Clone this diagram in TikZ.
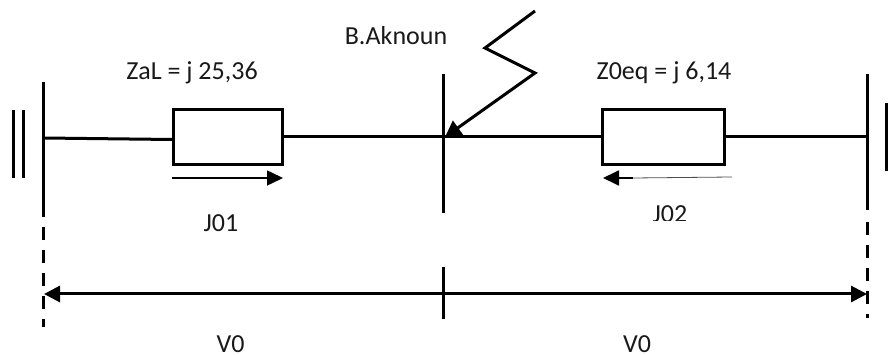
\documentclass[tikz,border=0pt]{standalone}
\usepackage{fontspec}
\setmainfont{Carlito}
\usetikzlibrary{arrows.meta}
\tikzset{
  wire/.style={line width=3pt,black},
  busbar/.style={line width=3pt,black},
  imp/.style={draw=black,line width=3.3pt,fill=white,minimum height=54.6pt,inner sep=0pt,outer sep=0pt},
  lab/.style={inner sep=0pt,anchor=base,font=\fontsize{26pt}{28pt}\selectfont,text=black!90},
  dashbus/.style={line width=3pt,black,dash pattern=on 13pt off 10pt},
}
\begin{document}
\begin{tikzpicture}[x=1pt,y=-1pt]
\useasboundingbox (0,0) rectangle (892,355);
% named points
\coordinate (LT) at (43.5,82); \coordinate (LB) at (43.5,217); \coordinate (LDs) at (43.5,227); \coordinate (LD) at (43.5,327);
\coordinate (LW) at (43.5,138); \coordinate (LI) at (172,139.5);
\coordinate (RT) at (867.7,74); \coordinate (RB) at (867.7,210); \coordinate (RDs) at (867.7,222); \coordinate (RD) at (867.7,318);
\coordinate (RW) at (867.7,137);
\coordinate (CT) at (443,74); \coordinate (CB) at (443,213); \coordinate (CW) at (443,137);
\coordinate (G1a) at (13,110); \coordinate (G1b) at (13,178);
\coordinate (G2a) at (23.7,110); \coordinate (G2b) at (23.7,178);
\coordinate (G3a) at (886.7,103); \coordinate (G3b) at (886.7,171);
\coordinate (Z1) at (535,11); \coordinate (Z2) at (485,48); \coordinate (Z3) at (535,73);
\coordinate (Zend) at (445,137);
\coordinate (A1s) at (172,178); \coordinate (A1e) at (283,178);
\coordinate (A2s) at (732,177); \coordinate (A2m) at (633,178); \coordinate (A2e) at (603,178);
\coordinate (DL) at (44,294); \coordinate (DR) at (867,294);
\coordinate (TT) at (443,267); \coordinate (TB) at (443,319);
% boxes
\node[imp,minimum width=108.6pt] (Z01) at (228,137) {};
\node[imp,minimum width=121.6pt] (Z02) at (663.5,137) {};
% wires
\draw[wire] (LW) -- (LI);
\draw[wire] (Z01.east |- CW) -- (CW) -- (Z02.west |- CW);
\draw[wire] (Z02.east |- CW) -- (RW);
% bars
\draw[busbar] (LT) -- (LB);
\draw[dashbus] (LDs) -- (LD);
\draw[busbar] (RT) -- (RB);
\draw[dashbus] (RDs) -- (RD);
\draw[busbar] (CT) -- (CB);
\draw[busbar] (G1a) -- (G1b);
\draw[busbar] (G2a) -- (G2b);
\draw[line width=3.3pt] (G3a) -- (G3b);
% fault
\draw[line width=3pt,line join=miter,-{Triangle[length=16pt,width=17pt]}] (Z1) -- (Z2) -- (Z3) -- (Zend);
% currents
\draw[line width=1.5pt,-{Triangle[length=16pt,width=15pt]}] (A1s) -- (A1e);
\draw[line width=.8pt,black!70] (A2s) -- (A2m);
\draw[line width=1.8pt,-{Triangle[length=16pt,width=15pt]}] (A2m) -- (A2e);
% dimension
\draw[wire,{Triangle[length=16pt,width=16pt]}-{Triangle[length=16pt,width=16pt]}] (DL) -- (DR);
\draw[busbar] (TT) -- (TB);
% labels
\node[lab] (t1) at (396,45) {B.Aknoun};
\node[lab] (t2) at (192,80) {ZaL = j 25,36};
\node[lab] (t3) at (664,80) {Z0eq = j 6,14};
\node[lab] (t4) at (221,232) {J01};
\node[lab] (t5) at (670,222.5) {J02};
\fill[white] (640,221) rectangle (700,232);
\node[lab] (t6) at (230.5,352.5) {V0};
\node[lab] (t7) at (637,352.5) {V0};
\end{tikzpicture}
\end{document}
